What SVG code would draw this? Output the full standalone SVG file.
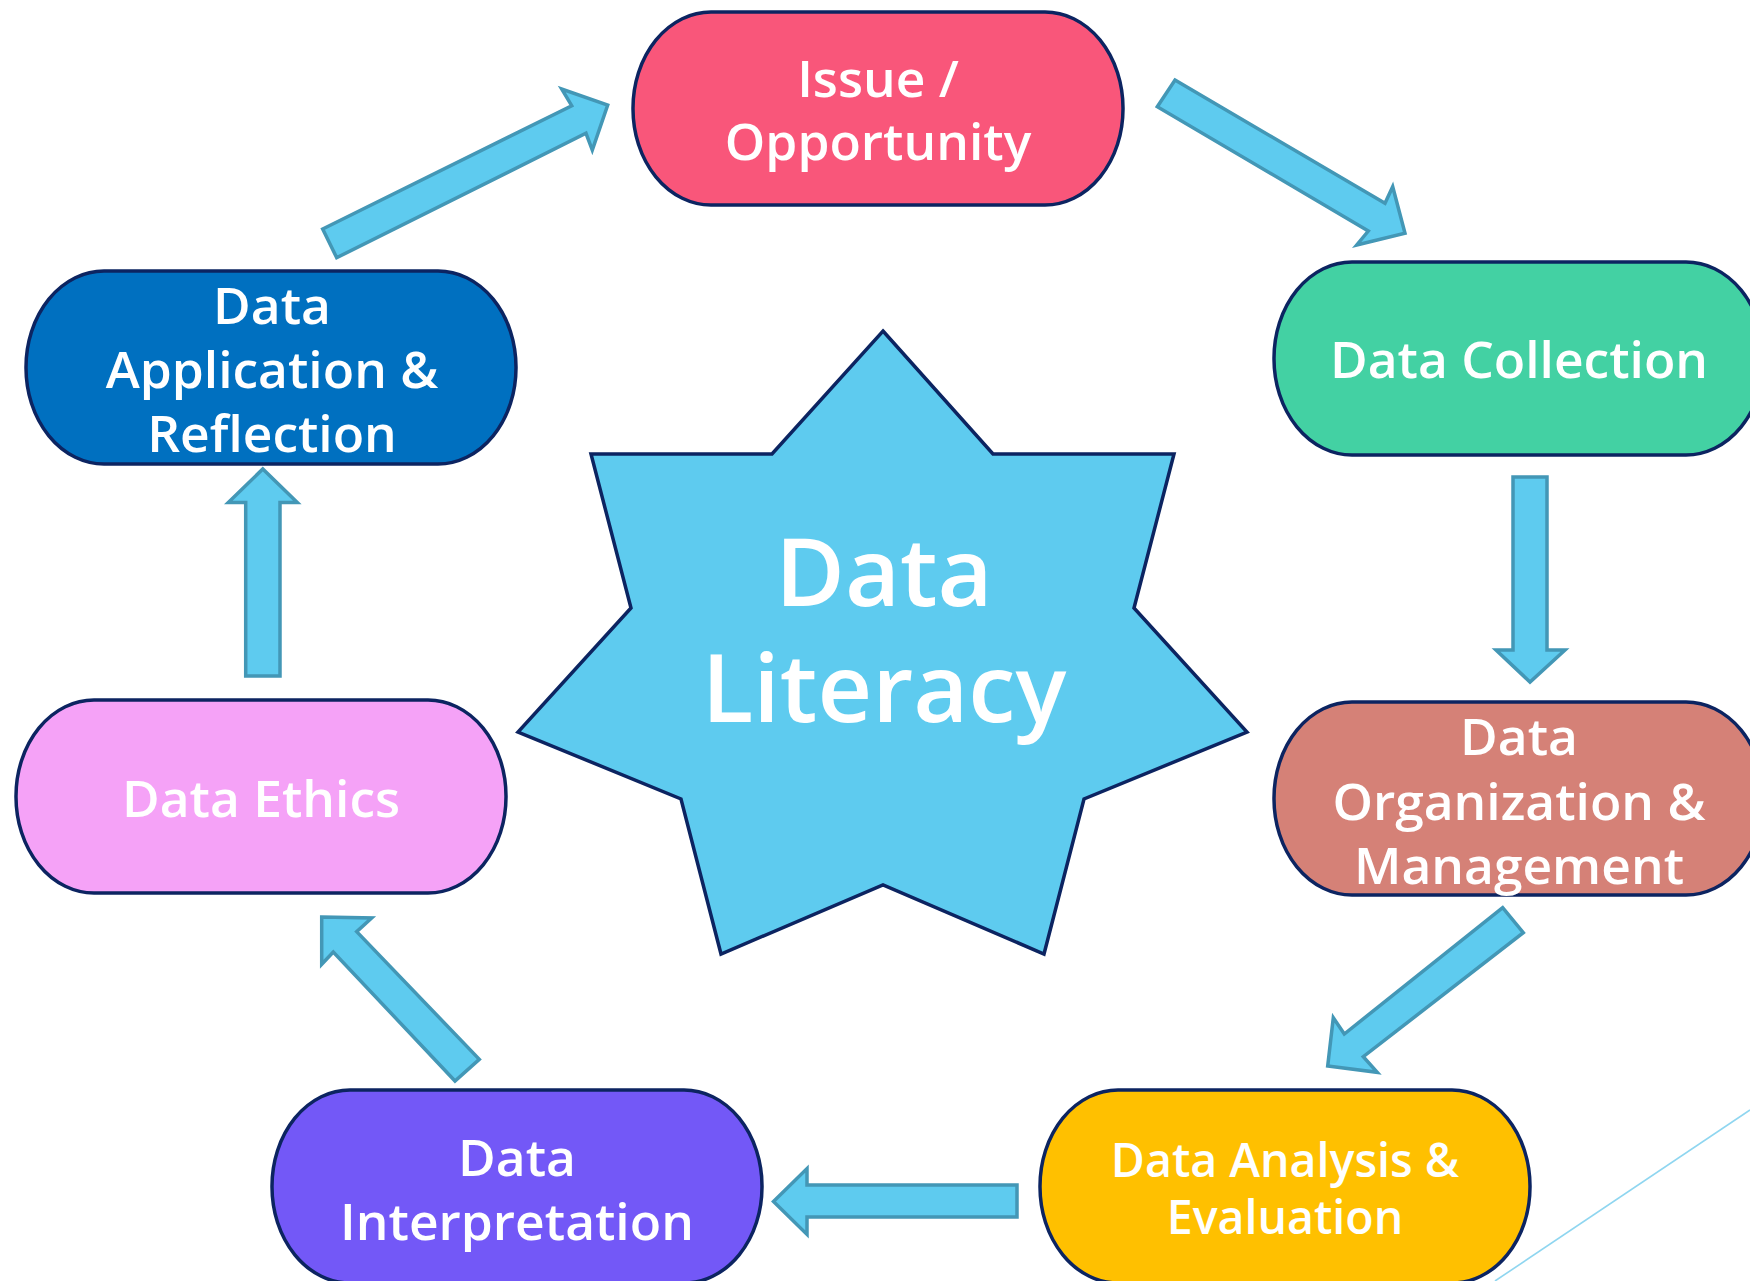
<svg xmlns="http://www.w3.org/2000/svg" width="1750" height="1281" viewBox="0 0 1750 1281">
  <style>
    .box { stroke: #0c2461; stroke-width: 3.5; }
    .lbl { font-family: "Open Sans", "Noto Sans", "Liberation Sans", sans-serif; font-weight: 600; fill: #ffffff; text-anchor: middle; }
    .arrow { fill: #5ecbef; stroke: #4397b6; stroke-width: 3.5; stroke-linejoin: miter; }
  </style>
  <rect width="1750" height="1281" fill="#ffffff"/>

  <!-- decorative thin line, bottom right -->
  <line x1="1750" y1="1110" x2="1495" y2="1281" stroke="#8fd6f0" stroke-width="1.6"/>

  <!-- centre star -->
  <g id="node-data-literacy">
    <polygon points="883,331 993,454 1174,454 1134,608 1247,732 1084,799 1044,954 883,885 721,954 681,799 518,732 631,608 591,454 772,454" fill="#5ecbef" stroke="#0c2461" stroke-width="3.5" stroke-linejoin="miter"/>
    <text class="lbl" x="884" y="606" font-size="95">Data</text>
    <text class="lbl" x="884" y="722" font-size="95">Literacy</text>
  </g>

  <!-- cycle steps -->
  <g id="node-issue">
    <rect class="box" x="633" y="12" width="490" height="193" rx="78" ry="96" fill="#f9567a"/>
    <text class="lbl" x="878" y="97" font-size="51.5">Issue /</text>
    <text class="lbl" x="878" y="160" font-size="51.5">Opportunity</text>
  </g>

  <g id="node-collection">
    <rect class="box" x="1274" y="262" width="490" height="193" rx="78" ry="96" fill="#43d1a3"/>
    <text class="lbl" x="1519" y="378" font-size="51.5">Data Collection</text>
  </g>

  <g id="node-organization">
    <rect class="box" x="1274" y="702" width="490" height="193" rx="78" ry="96" fill="#d58177"/>
    <text class="lbl" x="1519" y="755" font-size="51.5">Data</text>
    <text class="lbl" x="1519" y="820" font-size="51.5">Organization &amp;</text>
    <text class="lbl" x="1519" y="884" font-size="51.5">Management</text>
  </g>

  <g id="node-analysis">
    <rect class="box" x="1040" y="1090" width="490" height="193" rx="78" ry="96" fill="#ffc000"/>
    <text class="lbl" x="1285" y="1177" font-size="46.5">Data Analysis &amp;</text>
    <text class="lbl" x="1285" y="1234" font-size="46.5">Evaluation</text>
  </g>

  <g id="node-interpretation">
    <rect class="box" x="272" y="1090" width="490" height="193" rx="78" ry="96" fill="#7358f7"/>
    <text class="lbl" x="517" y="1176" font-size="51.5">Data</text>
    <text class="lbl" x="517" y="1240" font-size="51.5">Interpretation</text>
  </g>

  <g id="node-ethics">
    <rect class="box" x="16" y="700" width="490" height="193" rx="78" ry="96" fill="#f5a2f7"/>
    <text class="lbl" x="261" y="817" font-size="51.5">Data Ethics</text>
  </g>

  <g id="node-application">
    <rect class="box" x="26" y="271" width="490" height="193" rx="78" ry="96" fill="#0070c0"/>
    <text class="lbl" x="272" y="324" font-size="51.5">Data</text>
    <text class="lbl" x="272" y="388" font-size="51.5">Application &amp;</text>
    <text class="lbl" x="272" y="452" font-size="51.5">Reflection</text>
  </g>

  <!-- block arrows between steps -->
  <g id="connectors">
    <polygon class="arrow" points="322.7,229 571.7,105.7 561.7,89 607.7,105 592.3,150 586,133.3 336.7,257.7"/>
    <polygon class="arrow" points="1175,80 1385,203.3 1392.7,186.7 1405,233.3 1356.7,245 1368.3,231 1157.3,106.7"/>
    <polygon class="arrow" points="1513,477 1547,477 1547,650 1565,650 1530,682 1496,650 1513,650"/>
    <polygon class="arrow" points="1502.7,907.7 1344.3,1034 1333.3,1017.7 1327.7,1066 1377.3,1072.3 1363.3,1056.7 1523.3,932.7"/>
    <polygon class="arrow" points="1017,1185 807,1185 807,1168.6 773.5,1201.5 807,1234.4 807,1217 1017,1217"/>
    <polygon class="arrow" points="321.7,917 371.7,918 356.7,931.6 479.3,1059.4 455,1081 333.3,952 321.7,964.3"/>
    <polygon class="arrow" points="245.7,676 245.7,502.5 228.3,502.5 262.8,469 297.3,502.5 280,502.5 280,676"/>
  </g>
</svg>
